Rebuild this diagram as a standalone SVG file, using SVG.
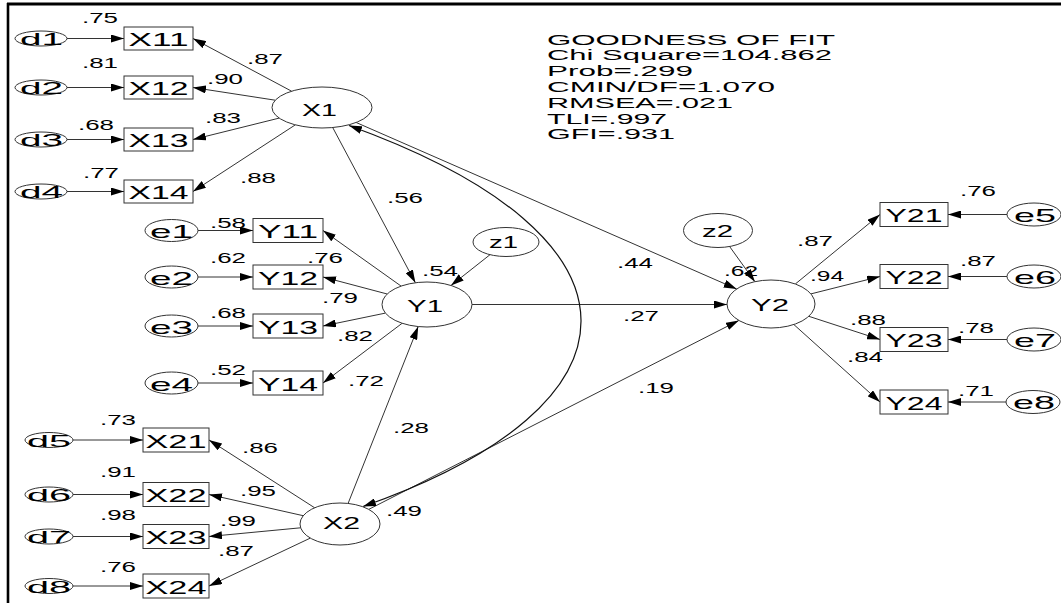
<svg xmlns="http://www.w3.org/2000/svg" width="1061" height="603" viewBox="0 0 1061 603">
<style>
.bg{fill:#fff}
.frame{stroke:#000;fill:none}
.el{fill:#fff;stroke:#333;stroke-width:1}
.bx{fill:#fff;stroke:#333;stroke-width:1}
.ln{stroke:#333;stroke-width:1;fill:none;marker-end:url(#ah)}
.arc{stroke:#111;stroke-width:1.2;fill:none;marker-start:url(#ah);marker-end:url(#ah)}
text{font-family:"Liberation Sans",Arial,sans-serif;fill:#000}
.lb{font-size:14px}
.nm{font-size:19px}
.dn{font-size:17px}
.lt{font-size:17px}
.gf{font-size:14px}
</style>
<defs>
<marker id="ah" viewBox="0 0 13 8" refX="13" refY="4" markerWidth="13" markerHeight="8" markerUnits="userSpaceOnUse" orient="auto-start-reverse">
<path d="M0,0 L13,4 L0,8 Z" fill="#000"/>
</marker>
</defs>
<rect class="bg" x="0" y="0" width="1061" height="603"/>
<line class="frame" x1="7" y1="4" x2="1061" y2="4" stroke-width="3"/>
<line class="frame" x1="8" y1="3" x2="8" y2="603" stroke-width="2.6"/>

<g id="connectors">
<line class="ln" x1="67" y1="38.5" x2="124" y2="38.5"/>
<line class="ln" x1="67" y1="87.5" x2="124" y2="87.5"/>
<line class="ln" x1="67" y1="139.5" x2="124" y2="139.5"/>
<line class="ln" x1="67" y1="191.5" x2="124" y2="191.5"/>
<line class="ln" x1="291.6" y1="91.2" x2="193" y2="38.5"/>
<line class="ln" x1="275.2" y1="100.2" x2="193" y2="87.5"/>
<line class="ln" x1="279.2" y1="118.1" x2="193" y2="139.5"/>
<line class="ln" x1="295.4" y1="124.8" x2="193" y2="191.5"/>
<line class="ln" x1="198" y1="230.5" x2="253" y2="230.5"/>
<line class="ln" x1="198" y1="277" x2="253" y2="277"/>
<line class="ln" x1="198" y1="326" x2="253" y2="326"/>
<line class="ln" x1="198" y1="383" x2="253" y2="383"/>
<line class="ln" x1="401.1" y1="286.1" x2="323" y2="230.5"/>
<line class="ln" x1="387.2" y1="294" x2="323" y2="277"/>
<line class="ln" x1="385.4" y1="313.1" x2="323" y2="326"/>
<line class="ln" x1="402.1" y1="323.3" x2="323" y2="383"/>
<line class="ln" x1="73" y1="440" x2="143" y2="440"/>
<line class="ln" x1="73" y1="494.5" x2="143" y2="494.5"/>
<line class="ln" x1="73" y1="536.5" x2="143" y2="536.5"/>
<line class="ln" x1="73" y1="586" x2="143" y2="586"/>
<line class="ln" x1="314.7" y1="507.8" x2="209" y2="440"/>
<line class="ln" x1="303.2" y1="515.7" x2="209" y2="494.5"/>
<line class="ln" x1="300.6" y1="527.8" x2="209" y2="536.5"/>
<line class="ln" x1="310.3" y1="538.1" x2="209" y2="586"/>
<line class="ln" x1="795.3" y1="284" x2="880" y2="214.5"/>
<line class="ln" x1="810.9" y1="293.9" x2="880" y2="276.5"/>
<line class="ln" x1="808.8" y1="316.3" x2="880" y2="339.5"/>
<line class="ln" x1="793.8" y1="324.5" x2="880" y2="402"/>
<line class="ln" x1="1007" y1="214.5" x2="948" y2="214.5"/>
<line class="ln" x1="1007" y1="276.5" x2="948" y2="276.5"/>
<line class="ln" x1="1007" y1="339.5" x2="948" y2="339.5"/>
<line class="ln" x1="1006" y1="402" x2="948" y2="402"/>
<line class="ln" x1="332.7" y1="127.5" x2="415.4" y2="282.8"/>
<line class="ln" x1="490" y1="254.7" x2="451" y2="285.5"/>
<line class="ln" x1="348.1" y1="503.4" x2="418.2" y2="326.6"/>
<line class="ln" x1="472" y1="304.5" x2="727" y2="304.5"/>
<line class="ln" x1="356.2" y1="122.5" x2="736.7" y2="289"/>
<line class="ln" x1="368.7" y1="509.4" x2="738.9" y2="320.4"/>
<line class="ln" x1="729.6" y1="246.5" x2="754.9" y2="281.7"/>
<path class="arc" d="M349,125.5 C660,238 652,405 363,506.5"/>
</g>

<g id="d1"><ellipse class="el" cx="41" cy="38.5" rx="26" ry="7.5"/><text class="dn" x="20" y="45" textLength="43" lengthAdjust="spacingAndGlyphs">d1</text></g>
<g id="d2"><ellipse class="el" cx="41" cy="87.5" rx="26" ry="7.5"/><text class="dn" x="20" y="94" textLength="43" lengthAdjust="spacingAndGlyphs">d2</text></g>
<g id="d3"><ellipse class="el" cx="41" cy="139.5" rx="26" ry="7.5"/><text class="dn" x="20" y="146" textLength="43" lengthAdjust="spacingAndGlyphs">d3</text></g>
<g id="d4"><ellipse class="el" cx="41" cy="191.5" rx="26" ry="7.5"/><text class="dn" x="20" y="198" textLength="43" lengthAdjust="spacingAndGlyphs">d4</text></g>

<g id="X11"><rect class="bx" x="124" y="27" width="69" height="23"/><text class="nm" x="128.5" y="46" textLength="60" lengthAdjust="spacingAndGlyphs">X11</text></g>
<g id="X12"><rect class="bx" x="124" y="76" width="69" height="23"/><text class="nm" x="128.5" y="95" textLength="60" lengthAdjust="spacingAndGlyphs">X12</text></g>
<g id="X13"><rect class="bx" x="124" y="128" width="69" height="23"/><text class="nm" x="128.5" y="147" textLength="60" lengthAdjust="spacingAndGlyphs">X13</text></g>
<g id="X14"><rect class="bx" x="124" y="180" width="69" height="23"/><text class="nm" x="128.5" y="199" textLength="60" lengthAdjust="spacingAndGlyphs">X14</text></g>

<g id="X1"><ellipse class="el" cx="322" cy="107.5" rx="50" ry="20.5"/><text class="lt" x="302" y="116" textLength="35" lengthAdjust="spacingAndGlyphs">X1</text></g>

<g id="e1"><ellipse class="el" cx="171.5" cy="230.5" rx="26.5" ry="11"/><text class="nm" x="150" y="238" textLength="43" lengthAdjust="spacingAndGlyphs">e1</text></g>
<g id="e2"><ellipse class="el" cx="171.5" cy="277" rx="26.5" ry="11"/><text class="nm" x="150" y="284.5" textLength="43" lengthAdjust="spacingAndGlyphs">e2</text></g>
<g id="e3"><ellipse class="el" cx="171.5" cy="326" rx="26.5" ry="11"/><text class="nm" x="150" y="333.5" textLength="43" lengthAdjust="spacingAndGlyphs">e3</text></g>
<g id="e4"><ellipse class="el" cx="171.5" cy="383" rx="26.5" ry="11"/><text class="nm" x="150" y="390.5" textLength="43" lengthAdjust="spacingAndGlyphs">e4</text></g>

<g id="Y11"><rect class="bx" x="253" y="218.5" width="70" height="24"/><text class="nm" x="258" y="238" textLength="60" lengthAdjust="spacingAndGlyphs">Y11</text></g>
<g id="Y12"><rect class="bx" x="253" y="265" width="70" height="24"/><text class="nm" x="258" y="284.5" textLength="60" lengthAdjust="spacingAndGlyphs">Y12</text></g>
<g id="Y13"><rect class="bx" x="253" y="314" width="70" height="24"/><text class="nm" x="258" y="333.5" textLength="60" lengthAdjust="spacingAndGlyphs">Y13</text></g>
<g id="Y14"><rect class="bx" x="253" y="371" width="70" height="24"/><text class="nm" x="258" y="390.5" textLength="60" lengthAdjust="spacingAndGlyphs">Y14</text></g>

<g id="Y1"><ellipse class="el" cx="427" cy="304.5" rx="45" ry="22.5"/><text class="lt" x="407" y="311.5" textLength="36" lengthAdjust="spacingAndGlyphs">Y1</text></g>
<g id="z1"><ellipse class="el" cx="506" cy="242" rx="33" ry="14.5"/><text class="lt" x="489" y="247.5" textLength="29" lengthAdjust="spacingAndGlyphs">z1</text></g>

<g id="d5"><ellipse class="el" cx="49" cy="440" rx="24" ry="7.5"/><text class="dn" x="27" y="446.5" textLength="44" lengthAdjust="spacingAndGlyphs">d5</text></g>
<g id="d6"><ellipse class="el" cx="49" cy="494.5" rx="24" ry="7.5"/><text class="dn" x="27" y="501" textLength="44" lengthAdjust="spacingAndGlyphs">d6</text></g>
<g id="d7"><ellipse class="el" cx="49" cy="536.5" rx="24" ry="7.5"/><text class="dn" x="27" y="543" textLength="44" lengthAdjust="spacingAndGlyphs">d7</text></g>
<g id="d8"><ellipse class="el" cx="49" cy="586" rx="24" ry="7.5"/><text class="dn" x="27" y="592.5" textLength="44" lengthAdjust="spacingAndGlyphs">d8</text></g>

<g id="X21"><rect class="bx" x="143" y="428" width="66" height="24"/><text class="nm" x="145.5" y="447.5" textLength="61" lengthAdjust="spacingAndGlyphs">X21</text></g>
<g id="X22"><rect class="bx" x="143" y="482.5" width="66" height="24"/><text class="nm" x="145.5" y="502" textLength="61" lengthAdjust="spacingAndGlyphs">X22</text></g>
<g id="X23"><rect class="bx" x="143" y="524.5" width="66" height="24"/><text class="nm" x="145.5" y="544" textLength="61" lengthAdjust="spacingAndGlyphs">X23</text></g>
<g id="X24"><rect class="bx" x="143" y="574" width="66" height="24"/><text class="nm" x="145.5" y="593.5" textLength="61" lengthAdjust="spacingAndGlyphs">X24</text></g>

<g id="X2"><ellipse class="el" cx="340" cy="524" rx="40" ry="21"/><text class="lt" x="323" y="529" textLength="37" lengthAdjust="spacingAndGlyphs">X2</text></g>

<g id="Y2"><ellipse class="el" cx="771" cy="304" rx="44" ry="24"/><text class="lt" x="751" y="311" textLength="38" lengthAdjust="spacingAndGlyphs">Y2</text></g>
<g id="z2"><ellipse class="el" cx="718" cy="230.5" rx="34.5" ry="17"/><text class="lt" x="702" y="237" textLength="31" lengthAdjust="spacingAndGlyphs">z2</text></g>

<g id="Y21"><rect class="bx" x="880" y="202.5" width="68" height="24"/><text class="nm" x="885.5" y="222" textLength="57" lengthAdjust="spacingAndGlyphs">Y21</text></g>
<g id="Y22"><rect class="bx" x="880" y="264.5" width="68" height="24"/><text class="nm" x="885.5" y="284" textLength="57" lengthAdjust="spacingAndGlyphs">Y22</text></g>
<g id="Y23"><rect class="bx" x="880" y="327.5" width="68" height="24"/><text class="nm" x="885.5" y="347" textLength="57" lengthAdjust="spacingAndGlyphs">Y23</text></g>
<g id="Y24"><rect class="bx" x="880" y="390" width="68" height="24"/><text class="nm" x="885.5" y="409.5" textLength="57" lengthAdjust="spacingAndGlyphs">Y24</text></g>

<g id="e5"><ellipse class="el" cx="1034" cy="214.5" rx="27" ry="11.5"/><text class="nm" x="1014" y="221.5" textLength="42" lengthAdjust="spacingAndGlyphs">e5</text></g>
<g id="e6"><ellipse class="el" cx="1034" cy="276.5" rx="27" ry="11.5"/><text class="nm" x="1014" y="283.5" textLength="42" lengthAdjust="spacingAndGlyphs">e6</text></g>
<g id="e7"><ellipse class="el" cx="1034" cy="339.5" rx="27" ry="11.5"/><text class="nm" x="1014" y="346.5" textLength="42" lengthAdjust="spacingAndGlyphs">e7</text></g>
<g id="e8"><ellipse class="el" cx="1033" cy="402" rx="27" ry="11.5"/><text class="nm" x="1013" y="409" textLength="42" lengthAdjust="spacingAndGlyphs">e8</text></g>

<g id="labels" class="lb">
<text class="lb" x="82" y="23" textLength="36" lengthAdjust="spacingAndGlyphs">.75</text>
<text class="lb" x="82" y="68" textLength="36" lengthAdjust="spacingAndGlyphs">.81</text>
<text class="lb" x="78" y="130" textLength="36" lengthAdjust="spacingAndGlyphs">.68</text>
<text class="lb" x="83" y="178" textLength="36" lengthAdjust="spacingAndGlyphs">.77</text>
<text class="lb" x="247" y="64" textLength="36" lengthAdjust="spacingAndGlyphs">.87</text>
<text class="lb" x="207" y="84" textLength="36" lengthAdjust="spacingAndGlyphs">.90</text>
<text class="lb" x="205" y="123" textLength="36" lengthAdjust="spacingAndGlyphs">.83</text>
<text class="lb" x="240" y="183" textLength="36" lengthAdjust="spacingAndGlyphs">.88</text>
<text class="lb" x="210" y="228" textLength="36" lengthAdjust="spacingAndGlyphs">.58</text>
<text class="lb" x="210" y="263" textLength="36" lengthAdjust="spacingAndGlyphs">.62</text>
<text class="lb" x="210" y="318" textLength="36" lengthAdjust="spacingAndGlyphs">.68</text>
<text class="lb" x="210" y="375" textLength="36" lengthAdjust="spacingAndGlyphs">.52</text>
<text class="lb" x="307" y="263" textLength="36" lengthAdjust="spacingAndGlyphs">.76</text>
<text class="lb" x="322" y="303" textLength="36" lengthAdjust="spacingAndGlyphs">.79</text>
<text class="lb" x="337" y="341" textLength="36" lengthAdjust="spacingAndGlyphs">.82</text>
<text class="lb" x="348" y="386" textLength="36" lengthAdjust="spacingAndGlyphs">.72</text>
<text class="lb" x="387" y="203" textLength="36" lengthAdjust="spacingAndGlyphs">.56</text>
<text class="lb" x="422" y="276" textLength="36" lengthAdjust="spacingAndGlyphs">.54</text>
<text class="lb" x="393" y="433" textLength="36" lengthAdjust="spacingAndGlyphs">.28</text>
<text class="lb" x="386" y="516" textLength="36" lengthAdjust="spacingAndGlyphs">.49</text>
<text class="lb" x="617" y="268" textLength="36" lengthAdjust="spacingAndGlyphs">.44</text>
<text class="lb" x="623" y="321" textLength="36" lengthAdjust="spacingAndGlyphs">.27</text>
<text class="lb" x="638" y="393" textLength="36" lengthAdjust="spacingAndGlyphs">.19</text>
<text class="lb" x="100" y="425" textLength="36" lengthAdjust="spacingAndGlyphs">.73</text>
<text class="lb" x="100" y="477" textLength="36" lengthAdjust="spacingAndGlyphs">.91</text>
<text class="lb" x="100" y="520" textLength="36" lengthAdjust="spacingAndGlyphs">.98</text>
<text class="lb" x="100" y="572" textLength="36" lengthAdjust="spacingAndGlyphs">.76</text>
<text class="lb" x="242" y="453" textLength="36" lengthAdjust="spacingAndGlyphs">.86</text>
<text class="lb" x="240" y="496" textLength="36" lengthAdjust="spacingAndGlyphs">.95</text>
<text class="lb" x="220" y="526" textLength="36" lengthAdjust="spacingAndGlyphs">.99</text>
<text class="lb" x="218" y="556" textLength="36" lengthAdjust="spacingAndGlyphs">.87</text>
<text class="lb" x="724" y="276" textLength="34" lengthAdjust="spacingAndGlyphs">.62</text>
<text class="lb" x="797" y="246" textLength="36" lengthAdjust="spacingAndGlyphs">.87</text>
<text class="lb" x="810" y="281" textLength="34" lengthAdjust="spacingAndGlyphs">.94</text>
<text class="lb" x="850" y="325" textLength="36" lengthAdjust="spacingAndGlyphs">.88</text>
<text class="lb" x="847" y="362" textLength="36" lengthAdjust="spacingAndGlyphs">.84</text>
<text class="lb" x="960" y="196" textLength="36" lengthAdjust="spacingAndGlyphs">.76</text>
<text class="lb" x="960" y="266" textLength="36" lengthAdjust="spacingAndGlyphs">.87</text>
<text class="lb" x="958" y="333" textLength="36" lengthAdjust="spacingAndGlyphs">.78</text>
<text class="lb" x="958" y="396" textLength="36" lengthAdjust="spacingAndGlyphs">.71</text>
</g>

<g id="fit">
<text class="gf" x="547" y="44.5" textLength="288" lengthAdjust="spacingAndGlyphs">GOODNESS OF FIT</text>
<text class="gf" x="547" y="60.3" textLength="285" lengthAdjust="spacingAndGlyphs">Chi Square=104.862</text>
<text class="gf" x="547" y="76.1" textLength="146" lengthAdjust="spacingAndGlyphs">Prob=.299</text>
<text class="gf" x="547" y="91.9" textLength="228" lengthAdjust="spacingAndGlyphs">CMIN/DF=1.070</text>
<text class="gf" x="547" y="107.7" textLength="186" lengthAdjust="spacingAndGlyphs">RMSEA=.021</text>
<text class="gf" x="547" y="123.5" textLength="120" lengthAdjust="spacingAndGlyphs">TLI=.997</text>
<text class="gf" x="547" y="139.3" textLength="128" lengthAdjust="spacingAndGlyphs">GFI=.931</text>
</g>
</svg>
